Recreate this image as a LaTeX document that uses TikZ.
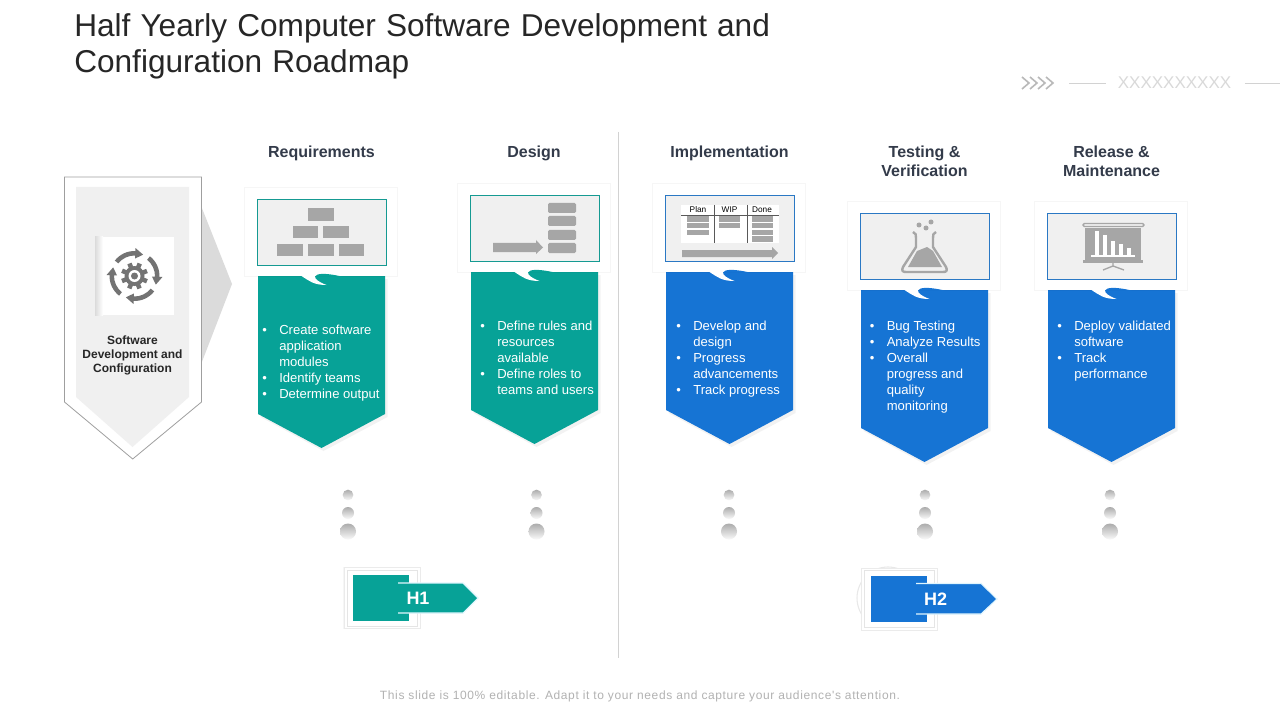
\documentclass[tikz,border=0pt]{standalone}
\usepackage{fontspec}
\setmainfont{Liberation Sans}
\newfontfamily\titlefont[WordSpace=1.15]{Liberation Sans}
\newfontfamily\footerfont[LetterSpace=5.2]{Liberation Sans}
\usetikzlibrary{positioning,shadows,arrows.meta}

\definecolor{tealfill}{HTML}{07A297}
\definecolor{bluefill}{HTML}{1674D4}
\definecolor{tealedge}{HTML}{159A92}
\definecolor{blueedge}{HTML}{2A78C4}
\definecolor{iconcol}{HTML}{A6A6A6}
\definecolor{headcol}{HTML}{333B4A}
\definecolor{panelcol}{HTML}{F0F0F0}

\tikzset{
    softshadow/.style={general shadow={fill=black,opacity=.035,shadow scale=1.015}},
    cardbox/.style={fill=white,softshadow,minimum width=114pt,minimum height=66pt,inner sep=0pt},
    innerbox/.style={fill=panelcol,line width=.7pt,minimum width=96.5pt,minimum height=49.5pt,inner sep=0pt},
    headtext/.style={font=\fontsize{12}{14.25}\selectfont\bfseries,text=headcol,align=center},
    bodytext/.style={font=\fontsize{9.8}{12}\selectfont,text=white,align=left,anchor=north west,inner sep=0pt},
    iconbar/.style={fill=iconcol,draw=none},
    badgetext/.style={font=\fontsize{13.5}{16}\selectfont\bfseries,text=white},
    orb/.style={top color=gray!65,bottom color=gray!4,draw=none,circle,inner sep=0pt},
}

\newcommand{\bitem}{\makebox[12.75pt][l]{\textbullet}}
\newcommand{\bcont}{\hspace*{12.75pt}}

% one column: centre x, top of the pentagon, name, fill, edge
\newcommand{\panel}[5]{
    \begin{scope}[shift={(#1,#2)}]
        \fill[black,opacity=.05] (-61,3) -- (66,3) -- (66,141) -- (2,175) -- (-61,141) -- cycle;
        \fill[#4] (-63.5,0) -- (63.5,0) -- (63.5,138) -- (0,172) -- (-63.5,138) -- cycle;
        \node[cardbox] (card#3) at (-0.5,-44) {};
        \node[innerbox,draw=#5] (box#3) at (0.5,-44) {};
        \fill[white] (-20,0) .. controls (-12,5) and (-8,9) .. (5,9) .. controls (-3,6) and (-7,3) .. (-6.5,0) -- cycle;
        \fill[#4] (-6.5,0.5) .. controls (-5,-3) and (5,-3) .. (20,0.5) -- cycle;
    \end{scope}
}
% three fading dots
\newcommand{\orbs}[2]{
    \node[orb,minimum size=8pt] (orba#2) at (#1,495) {};
    \node[orb,minimum size=9pt] (orbb#2) at (#1,513) {};
    \node[orb,minimum size=12pt] (orbc#2) at (#1,531.5) {};
}

\begin{document}
\begin{tikzpicture}[x=0.75pt,y=-0.75pt]
    \useasboundingbox (0,0) rectangle (1280,720);
    \fill[white] (0,0) rectangle (1280,720);

    %Title
    \node[anchor=north west,inner sep=0pt,align=left,text=black!85,font=\titlefont\fontsize{23.7}{27}\selectfont] (title) at (74,13.5)
        {Half Yearly Computer Software Development and\\Configuration Roadmap};

    %Top right mark
    \foreach \i in {0,1,2,3}
        \draw[gray!55,line width=1.2pt] (1022+8*\i,77) -- (1029+8*\i,83) -- (1022+8*\i,89);
    \node[font=\fontsize{12.75}{14}\selectfont,text=gray!30,inner sep=0pt] (xmark) at (1174.5,83) {XXXXXXXXXX};
    \coordinate[left=9pt of xmark] (xleft);
    \coordinate[right=10pt of xmark] (xright);
    \coordinate (xleftend) at (1069,83);
    \coordinate (xrightend) at (1280,83);
    \draw[gray!35] (xleft) -- (xleftend);
    \draw[gray!35] (xright) -- (xrightend);

    %Divider
    \coordinate (divtop) at (618.5,132);
    \coordinate (divbot) at (618.5,658);
    \draw[gray!35,line width=.6pt] (divtop) -- (divbot);

    %Left panel
    \fill[gray!28] (201.5,207) -- (232,284) -- (201.5,363) -- cycle;
    \draw[gray!75,line width=.6pt,fill=white] (64.5,177) -- (201.5,177) -- (201.5,402) -- (132.7,459) -- (64.5,402) -- cycle;
    \fill[panelcol] (76,187) -- (189,187) -- (189,397) -- (132.5,447) -- (76,397) -- cycle;
    \node[fill=white,minimum width=59.25pt,minimum height=58.5pt,inner sep=0pt] (iconsq) at (134.5,276) {};
    \shade[left color=gray!28,right color=white] (95,237) rectangle (103,315);
    \begin{scope}[shift={(134.5,276)},y=0.75pt]
        \fill[black!55] (0,0) circle (10);
        \foreach \a in {0,45,...,315}
            \draw[black!55,line width=3.4pt] (\a+22:8) -- (\a+22:13.5);
        \fill[white] (0,0) circle (6);
        \fill[black!55] (0,0) circle (3.5);
        \foreach \a in {0,90,180,270}
            \fill[black!55] (\a+142:20.5) arc (\a+142:\a+88:20.5) -- (\a+88:17.5) -- (\a+68:23) -- (\a+88:28) -- (\a+88:25) arc (\a+88:\a+142:25) -- cycle;
    \end{scope}
    \node[font=\fontsize{9}{10.5}\selectfont\bfseries,text=black!85,align=center] (lefttext) at (132.5,355.5)
        {Software\\Development and\\Configuration};

    %Columns
    \panel{321.5}{276}{a}{tealfill}{tealedge}
    \panel{534.5}{272}{b}{tealfill}{tealedge}
    \panel{729.5}{272}{c}{bluefill}{blueedge}
    \panel{924.5}{290}{d}{bluefill}{blueedge}
    \panel{1111.5}{290}{e}{bluefill}{blueedge}

    %Headings
    \node[headtext,anchor=base] (heada) at (321.5,157.5) {Requirements};
    \node[headtext,anchor=base] (headb) at (534,157.5) {Design};
    \node[headtext,anchor=base] (headc) at (729.5,157.5) {Implementation};
    \node[headtext] (headd) at (924.5,161.5) {Testing \&\\Verification};
    \node[headtext] (heade) at (1111.5,161.5) {Release \&\\Maintenance};

    %Body text
    \node[bodytext] (texta) at (262,325) {\bitem Create software\\\bcont application\\\bcont modules\\\bitem Identify teams\\\bitem Determine output};
    \node[bodytext] (textb) at (480,321) {\bitem Define rules and\\\bcont resources\\\bcont available\\\bitem Define roles to\\\bcont teams and users};
    \node[bodytext] (textc) at (676,321) {\bitem Develop and\\\bcont design\\\bitem Progress\\\bcont advancements\\\bitem Track progress};
    \node[bodytext] (textd) at (869.5,321) {\bitem Bug Testing\\\bitem Analyze Results\\\bitem Overall\\\bcont progress and\\\bcont quality\\\bcont monitoring};
    \node[bodytext] (texte) at (1057,321) {\bitem Deploy validated\\\bcont software\\\bitem Track\\\bcont performance};

    %Icon a
    \fill[iconbar] (308,208) rectangle (334,221);
    \fill[iconbar] (293,226) rectangle (318,238);
    \fill[iconbar] (323,226) rectangle (349,238);
    \fill[iconbar] (277,244) rectangle (303,256);
    \fill[iconbar] (308,244) rectangle (334,256);
    \fill[iconbar] (339,244) rectangle (364,256);

    %Icon b
    \foreach \y in {203,216,230,243}
        \fill[iconbar,rounded corners=1pt] (548,\y) rectangle (576,\y+10);
    \fill[iconbar] (493,243) -- (536,243) -- (536,240) -- (543,247.5) -- (536,254) -- (536,252) -- (493,252) -- cycle;

    %Icon c
    \fill[white] (681,205) rectangle (779,243);
    \draw[black!65,line width=.5pt] (681,215) -- (779,215);
    \draw[black!65,line width=.5pt] (714,205) -- (714,243);
    \draw[black!65,line width=.5pt] (747,205) -- (747,243);
    \node[font=\fontsize{6.2}{7}\selectfont,inner sep=0pt] (plan) at (698,210) {Plan};
    \node[font=\fontsize{6.2}{7}\selectfont,inner sep=0pt] (wip) at (729.5,210) {WIP};
    \node[font=\fontsize{6.2}{7}\selectfont,inner sep=0pt] (done) at (762,210) {Done};
    \fill[iconbar] (687,216) rectangle (709,222);
    \fill[iconbar] (687,223) rectangle (709,228);
    \fill[iconbar] (687,230) rectangle (709,235);
    \fill[iconbar] (719,216) rectangle (740,222);
    \fill[iconbar] (719,223) rectangle (740,228);
    \fill[iconbar] (752,216) rectangle (773,222);
    \fill[iconbar] (752,223) rectangle (773,228);
    \fill[iconbar] (752,230) rectangle (773,235);
    \fill[iconbar] (752,236) rectangle (773,242);
    \fill[iconbar] (682,250) -- (772,250) -- (772,247) -- (778,253) -- (772,259) -- (772,257) -- (682,257) -- cycle;

    %Icon d
    \draw[iconcol,line width=1.8pt,line join=round] (913,232) .. controls (916,233) and (916,235) .. (916,238) -- (916,247) -- (903,267) .. controls (901,271) and (903,272) .. (906,272) -- (943,272) .. controls (946,272) and (948,271) .. (946,267) -- (933,247) -- (933,238) .. controls (933,235) and (933,233) .. (936,232);
    \fill[iconcol] (908,267) -- (917,251) -- (927,247) -- (933,251) -- (942,267) -- cycle;
    \fill[iconcol] (919,225) circle (2.5);
    \fill[iconcol] (926,228) circle (2.5);
    \fill[iconcol] (931,222) circle (2.5);

    %Icon e
    \draw[iconcol,line width=1pt,rounded corners=1pt] (1083,223.5) rectangle (1144,226.5);
    \fill[iconcol] (1085,228) rectangle (1141,260);
    \fill[iconcol] (1083,260) rectangle (1143,262.5);
    \fill[white] (1095,231) rectangle (1099,255);
    \fill[white] (1103,235) rectangle (1107,255);
    \fill[white] (1111,241) rectangle (1115,255);
    \fill[white] (1119,244) rectangle (1123,255);
    \fill[white] (1127,248) rectangle (1131,255);
    \fill[white] (1091,255) rectangle (1135,256.5);
    \draw[iconcol,line width=1pt] (1113,262) -- (1113,266) -- (1103,270);
    \draw[iconcol,line width=1pt] (1113,266) -- (1124,270);

    %Dots
    \orbs{348}{a}
    \orbs{536.5}{b}
    \orbs{729}{c}
    \orbs{925}{d}
    \orbs{1110}{e}

    %H1
    \node[fill=white,draw=gray!16,line width=.5pt,softshadow,minimum width=57pt,minimum height=46pt,inner sep=0pt] (hao) at (382,598) {};
    \node[draw=gray!20,line width=.5pt,minimum width=52.5pt,minimum height=42pt,inner sep=0pt] (hai) at (382,598) {};
    \node[fill=tealfill,minimum width=42pt,minimum height=34.5pt,inner sep=0pt] (has) at (381,598) {};
    \draw[fill=tealfill,draw=cyan!12,line width=.8pt] (398,583) -- (463,583) -- (478,598) -- (463,613) -- (398,613);
    \node[badgetext] (hal) at (418,598) {H1};

    %H2
    \draw[gray!18,line width=.8pt] (888,598) circle (31);
    \node[fill=white,draw=gray!16,line width=.5pt,softshadow,minimum width=57pt,minimum height=46.5pt,inner sep=0pt] (hbo) at (899.5,599) {};
    \node[draw=gray!20,line width=.5pt,minimum width=52.5pt,minimum height=42.5pt,inner sep=0pt] (hbi) at (899.5,599) {};
    \node[fill=bluefill,minimum width=42pt,minimum height=34.5pt,inner sep=0pt] (hbs) at (899,599) {};
    \draw[fill=bluefill,draw=cyan!12,line width=.8pt] (916,583.5) -- (981,583.5) -- (997,599) -- (981,614) -- (916,614);
    \node[badgetext] (hbl) at (935.5,599) {H2};

    %Footer
    \node[font=\footerfont\fontsize{9}{11}\selectfont,text=gray!60,inner sep=0pt] (footer) at (640,696.5)
        {This slide is 100\% editable. Adapt it to your needs and capture your audience's attention.};
\end{tikzpicture}
\end{document}
